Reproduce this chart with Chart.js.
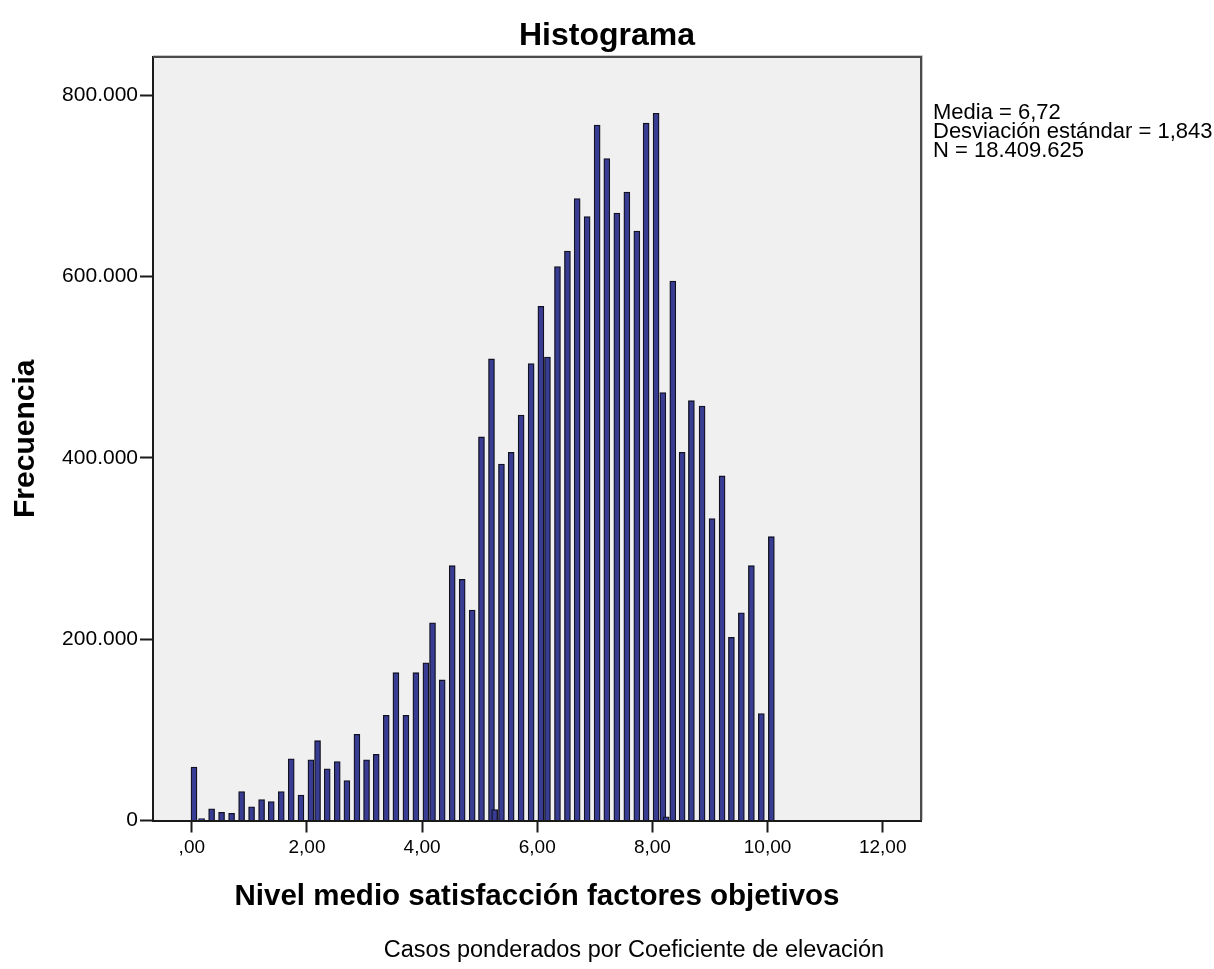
<!DOCTYPE html>
<html>
<head>
<meta charset="utf-8">
<script src="https://cdn.jsdelivr.net/npm/chart.js@4.4.1/dist/chart.umd.min.js"></script>
<style>
html,body{margin:0;padding:0;background:#ffffff;}
#c{display:block;width:1214px;height:969px;}
</style>
</head>
<body>
<canvas id="c" width="1214" height="969"></canvas>
<script>
// ---- data ----
const binCenters = [
  0.038, 0.17, 0.344, 0.517, 0.691, 0.865, 1.038, 1.212, 1.380, 1.554,
  1.727, 1.896, 2.069, 2.184, 2.352, 2.526, 2.694, 2.868, 3.035, 3.203,
  3.377, 3.545, 3.719, 3.892, 4.066, 4.181, 4.349, 4.523, 4.696, 4.870,
  5.031, 5.205, 5.260, 5.378, 5.547, 5.720, 5.894, 6.063, 6.177, 6.351,
  6.524, 6.693, 6.866, 7.040, 7.208, 7.382, 7.556, 7.729, 7.891, 8.064,
  8.181, 8.240, 8.354, 8.516, 8.677, 8.863, 9.036, 9.210, 9.372, 9.545,
  9.719, 9.892, 10.066
];
const frequencies = [
  59000, 2000, 13000, 9000, 8000, 32000, 15000, 23000, 21000, 32000,
  68000, 28000, 67000, 88000, 57000, 65000, 44000, 95000, 67000, 73000,
  116000, 163000, 116000, 163000, 174000, 218000, 155000, 281000, 266000, 232000,
  423000, 509000, 12000, 393000, 406000, 447000, 504000, 567000, 511000, 611000,
  628000, 686000, 666000, 767000, 730000, 670000, 693000, 650000, 769000, 780000,
  472000, 4000, 595000, 406000, 463000, 457000, 333000, 380000, 202000, 229000,
  281000, 118000, 313000
];
const xTickValues = [0, 2, 4, 6, 8, 10, 12];
const yTickValues = [0, 200000, 400000, 600000, 800000];
const chartTitle = 'Histograma';
const xAxisTitle = 'Nivel medio satisfacción factores objetivos';
const yAxisTitle = 'Frecuencia';
const statsLines = ['Media = 6,72', 'Desviación estándar = 1,843', 'N = 18.409.625'];
const footnote = 'Casos ponderados por Coeficiente de elevación';

// ---- helpers ----
function fmtX(v) {
  if (v === 0) return ',00';
  return v.toFixed(2).replace('.', ',');
}
function fmtY(v) {
  return String(Math.round(v)).replace(/\B(?=(\d{3})+(?!\d))/g, '.');
}
const FONT = '"Liberation Sans", Arial, Helvetica, sans-serif';

const plotBg = {
  id: 'plotBg',
  beforeDraw(chart) {
    const {ctx, chartArea: a} = chart;
    ctx.save();
    ctx.fillStyle = '#f0f0f0';
    ctx.fillRect(a.left, a.top, a.right - a.left, a.bottom - a.top);
    ctx.restore();
  },
  afterDraw(chart) {
    const {ctx, chartArea: a} = chart;
    ctx.save();
    // frame top & right
    ctx.strokeStyle = '#c8c8c8';
    ctx.lineWidth = 1;
    ctx.beginPath();
    ctx.moveTo(a.left, a.top - 1.5);
    ctx.lineTo(a.right + 1.5, a.top - 1.5);
    ctx.lineTo(a.right + 1.5, a.bottom);
    ctx.stroke();
    ctx.strokeStyle = '#4a4a4a';
    ctx.lineWidth = 2;
    ctx.beginPath();
    ctx.moveTo(a.left, a.top);
    ctx.lineTo(a.right, a.top);
    ctx.lineTo(a.right, a.bottom);
    ctx.stroke();
    // statistics text
    ctx.fillStyle = '#000000';
    ctx.font = '22px ' + FONT;
    ctx.textAlign = 'left';
    ctx.textBaseline = 'alphabetic';
    const baselines = [119, 138, 157];
    statsLines.forEach((t, i) => ctx.fillText(t, 933, baselines[i]));
    // footnote
    ctx.font = '23.5px ' + FONT;
    ctx.textAlign = 'center';
    ctx.fillText(footnote, 634, 957);
    ctx.restore();
  }
};

const points = binCenters.map((x, i) => ({x: x, y: frequencies[i]}));

new Chart(document.getElementById('c'), {
  type: 'bar',
  data: {
    datasets: [{
      data: points,
      xAxisID: 'x',
      yAxisID: 'y',
      backgroundColor: '#383c92',
      borderColor: '#111122',
      borderWidth: 1.3,
      borderSkipped: 'bottom',
      barThickness: 6
    }]
  },
  options: {
    responsive: false,
    animation: false,
    devicePixelRatio: 1,
    layout: {padding: {left: 0, right: 0, top: 0, bottom: 52}},
    plugins: {
      legend: {display: false},
      tooltip: {enabled: false},
      title: {
        display: true,
        text: chartTitle,
        color: '#000000',
        font: {family: FONT, size: 32, weight: 'bold', lineHeight: 1.125},
        padding: {top: 18, bottom: 3}
      }
    },
    scales: {
      x: {
        type: 'linear',
        offset: false,
        min: -0.674,
        max: 12.665,
        afterBuildTicks(scale) { scale.ticks = xTickValues.map(v => ({value: v})); },
        afterFit(scale) { scale.height = 969 - 52 - 820.5; },
        ticks: {
          color: '#000000',
          font: {family: FONT, size: 19},
          padding: 4,
          maxRotation: 0,
          autoSkip: false,
          callback: (v) => fmtX(v)
        },
        grid: {display: true, offset: false, drawOnChartArea: false, drawTicks: true,
               tickLength: 12, tickWidth: 2, tickColor: '#1a1a1a'},
        border: {display: true, color: '#1a1a1a', width: 2},
        title: {
          display: true,
          text: xAxisTitle,
          color: '#000000',
          font: {family: FONT, size: 29.5, weight: 'bold', lineHeight: 1.2},
          padding: {top: 0, bottom: 2}
        }
      },
      y: {
        type: 'linear',
        position: 'left',
        min: 0,
        max: 842000,
        afterBuildTicks(scale) { scale.ticks = yTickValues.map(v => ({value: v})); },
        afterFit(scale) { scale.width = 153; },
        ticks: {
          color: '#000000',
          font: {family: FONT, size: 21},
          padding: 2,
          autoSkip: false,
          callback: (v) => fmtY(v)
        },
        grid: {display: true, drawOnChartArea: false, drawTicks: true,
               tickLength: 13, tickWidth: 2, tickColor: '#1a1a1a'},
        border: {display: true, color: '#1a1a1a', width: 2},
        title: {
          display: true,
          text: yAxisTitle,
          color: '#000000',
          font: {family: FONT, size: 30, weight: 'bold', lineHeight: 1.2},
          padding: {top: 8, bottom: 0}
        }
      },
      yRight: {
        type: 'linear',
        position: 'right',
        display: true,
        min: 0,
        max: 1,
        afterFit(scale) { scale.width = 293; },
        ticks: {display: false},
        grid: {display: false, drawTicks: false},
        border: {display: false}
      }
    }
  },
  plugins: [plotBg]
});
</script>
</body>
</html>
